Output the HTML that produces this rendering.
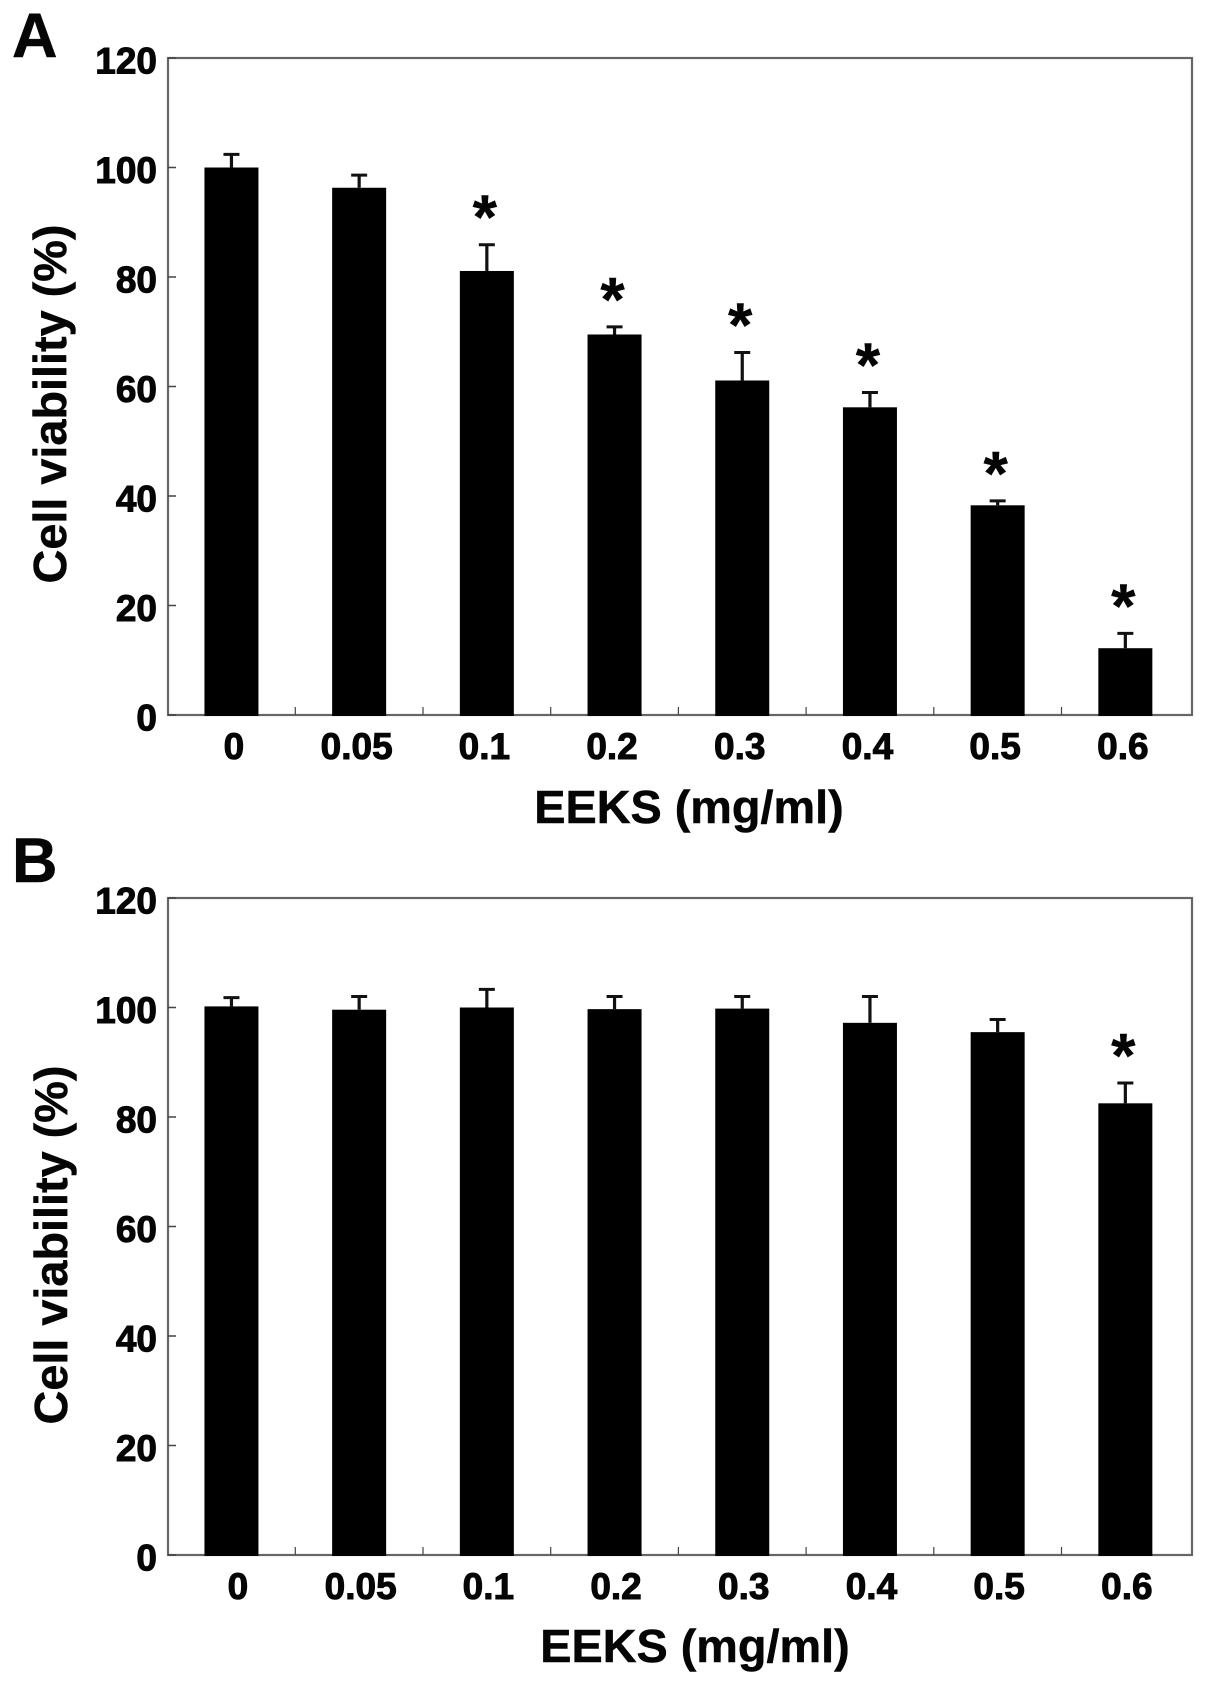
<!DOCTYPE html>
<html lang="en">
<head>
<meta charset="utf-8">
<title>Cell viability vs EEKS concentration</title>
<style>
  html, body { margin: 0; padding: 0; background: #fff; }
  svg { display: block; }
  text { font-family: "Liberation Sans", Arial, sans-serif; font-weight: 700; fill: #050505; stroke: #050505; stroke-width: 0.5px; }
  text.tick-text { stroke-width: 1px; }
</style>
</head>
<body>
<svg id="figure" xmlns="http://www.w3.org/2000/svg" width="1205" height="1683" viewBox="0 0 1205 1683">
  <rect x="0" y="0" width="1205" height="1683" fill="#fff"/>
</svg>
<script>
const categories = ['0', '0.05', '0.1', '0.2', '0.3', '0.4', '0.5', '0.6'];
const yTickValues = [0, 20, 40, 60, 80, 100, 120];
const viabilityA = [100, 96.3, 81.1, 69.5, 61.1, 56.2, 38.3, 12.2];
const errorTopA = [102.4, 98.6, 85.9, 70.9, 66.2, 58.9, 39.1, 14.9];
const significantA = [false, false, true, true, true, true, true, true];
const viabilityB = [100.2, 99.6, 100, 99.7, 99.8, 97.2, 95.5, 82.5];
const errorTopB = [101.8, 102, 103.3, 102, 102, 102, 97.8, 86.2];
const significantB = [false, false, false, false, false, false, false, true];
const yAxisMax = 120;
const xAxisTitle = 'EEKS (mg/ml)';
const yAxisTitle = 'Cell viability (%)';

const NS = 'http://www.w3.org/2000/svg';
const svg = document.getElementById('figure');

function make(tag, attrs, parent) {
  const el = document.createElementNS(NS, tag);
  for (const k in attrs) el.setAttribute(k, attrs[k]);
  parent.appendChild(el);
  return el;
}

function drawPanel(cfg) {
  const g = make('g', {}, svg);
  
  

  const left = 168, right = 1192, top = cfg.top, bottom = cfg.top + 657;
  const bandStart = 167.6, bandWidth = 127.7, barWidth = 54;
  const yScale = v => bottom - (v / yAxisMax) * (bottom - top);
  const xCenter = i => bandStart + bandWidth * (i + 0.5);

  const panelLetter = make('text', { x: 12, y: cfg.letterY, 'font-size': 63 }, g);
  panelLetter.textContent = cfg.letter;
  
  

  const frame = make('rect', { x: left, y: top, width: right - left, height: bottom - top, fill: 'none', stroke: '#666', 'stroke-width': 2.2 }, g);
  
  

  yTickValues.forEach(v => {
    const y = yScale(v);
    const tick = make('line', { x1: left, x2: left + 8, y1: y, y2: y, stroke: '#444', 'stroke-width': 1.5 }, g);
    
    
    const label = make('text', { class: 'tick-text', x: 157, y: y + 15.5, 'font-size': 37, 'text-anchor': 'end' }, g);
    label.textContent = String(v);
    
    
  });

  for (let k = 1; k < categories.length; k++) {
    const x = bandStart + bandWidth * k;
    const tick = make('line', { x1: x, x2: x, y1: bottom, y2: bottom - 8, stroke: '#444', 'stroke-width': 1.2 }, g);
    
    
  }

  categories.forEach((c, i) => {
    const cx = xCenter(i);
    const barTop = yScale(cfg.values[i]);
    const errTop = yScale(cfg.errors[i]);

    const stem = make('line', { x1: cx, x2: cx, y1: errTop, y2: barTop, stroke: '#111', 'stroke-width': 3.2 }, g);
    
    
    const cap = make('line', { x1: cx - 8, x2: cx + 8, y1: errTop, y2: errTop, stroke: '#111', 'stroke-width': 3 }, g);
    
    

    const bar = make('rect', { x: cx - barWidth / 2, y: barTop, width: barWidth, height: bottom + 1 - barTop, fill: '#000' }, g);
    
    

    const labelX = cx + cfg.labelShift + (i === 0 ? 5 : 0);
    const label = make('text', { class: 'tick-text', x: labelX, y: bottom + 44, 'font-size': 37, 'text-anchor': 'middle' }, g);
    label.textContent = c;
    
    

    if (cfg.stars[i]) {
      const star = make('text', { x: cx - 2, y: errTop - 6, 'font-size': 62, 'text-anchor': 'middle' }, g);
      star.textContent = '*';
      
      
    }
  });

  const xTitle = make('text', { x: cfg.xTitleX, y: cfg.xTitleY, 'font-size': 46.8, 'text-anchor': 'middle' }, g);
  xTitle.textContent = xAxisTitle;
  
  

  const yTitle = make('text', { x: 0, y: 0, 'font-size': 46.8, 'text-anchor': 'middle', transform: 'translate(' + cfg.yTitleX + ',' + cfg.yTitleY + ') rotate(-90)' }, g);
  yTitle.textContent = yAxisTitle;
  
  
}

drawPanel({ letter: 'A', letterY: 57, top: 58, values: viabilityA, errors: errorTopA, stars: significantA, labelShift: -2.5, xTitleX: 689, xTitleY: 823, yTitleX: 66, yTitleY: 404 });
drawPanel({ letter: 'B', letterY: 882, top: 898, values: viabilityB, errors: errorTopB, stars: significantB, labelShift: 1.5, xTitleX: 695, xTitleY: 1662, yTitleX: 67, yTitleY: 1245 });
</script>
</body>
</html>
